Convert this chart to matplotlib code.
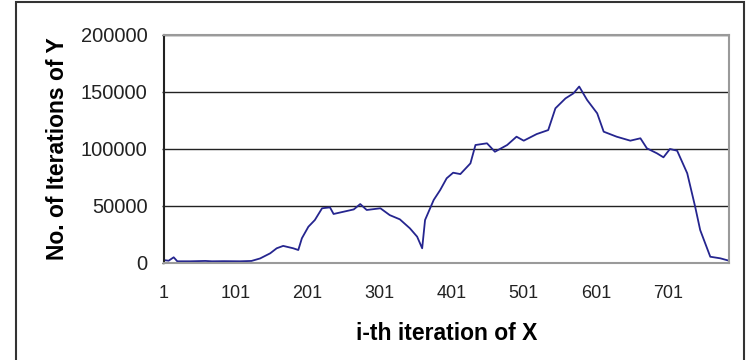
import matplotlib.pyplot as plt
from matplotlib.patches import Rectangle

plt.rcParams['font.family'] = ['Liberation Sans', 'DejaVu Sans']

# values (iteration index, count)
iter_x = [1, 8, 15, 20, 38, 59, 68, 85, 107, 123, 135, 149, 158, 167,
          181, 188, 193, 202, 211, 221, 232, 237, 251, 265, 274, 283, 302,
          315, 329, 343, 353, 360, 364, 376, 385, 394, 403, 413, 427, 434,
          450, 461, 478, 491, 501, 519, 535, 545, 559, 570, 578, 589, 603,
          612, 630, 649, 663, 672, 686, 695, 704, 714, 728, 739, 746, 760,
          774, 786]
iter_y = [2600, 2000, 5000, 1500, 1500, 1800, 1500, 1600, 1500, 1800, 4000,
          8500, 12900, 15000, 12900, 11400, 21700, 31800, 37700, 48000,
          48800, 43000, 45000, 47000, 51700, 46500, 48000, 42000, 38300,
          30400, 23100, 12900, 37700, 55300, 64000, 74300, 79200, 78000,
          87400, 103500, 105000, 97600, 103500, 110800, 107300, 113100,
          116600, 135700, 144400, 148800, 154800, 143000, 131300, 115200,
          110800, 107300, 109400, 100600, 96200, 92700, 100000, 98500,
          78700, 49400, 28900, 5500, 4100, 2000]

y_ticks = [0, 50000, 100000, 150000, 200000]
x_ticks = [1, 101, 201, 301, 401, 501, 601, 701]

fig = plt.figure(figsize=(7.53, 3.6), dpi=100)
ax = fig.add_axes([163.6 / 753, 1 - 263 / 360, (729 - 163.6) / 753, (263 - 35) / 360])

ax.plot(iter_x, iter_y, color='#25258f', lw=1.3)

ax.set_xlim(1, 786)
ax.set_ylim(0, 200000)
ax.set_yticks(y_ticks)
ax.set_yticklabels([str(v) for v in y_ticks])
ax.set_xticks(x_ticks)
ax.set_xticklabels([str(v) for v in x_ticks])
ax.grid(axis='y', color='#222222', lw=1)
ax.set_axisbelow(True)

ax.tick_params(axis='y', length=1.5, width=1, color='#222222', labelsize=14.5,
               pad=10, labelcolor='#222222')
ax.tick_params(axis='x', length=0, labelsize=13, pad=16, labelcolor='#222222')

for side in ['top', 'right', 'bottom']:
    ax.spines[side].set_color('#9a9a9a')
    ax.spines[side].set_linewidth(1.5)
ax.spines['left'].set_color('#222222')
ax.spines['left'].set_linewidth(1.5)

ax.set_xlabel('i-th iteration of X', fontsize=16.5, fontweight='bold', va='center')
ax.set_ylabel('No. of Iterations of Y', fontsize=16.5, fontweight='bold', va='center')
ax.xaxis.set_label_coords(0.5, -0.311)
ax.yaxis.set_label_coords(-0.188, 0.5)

# outer chart border
fig.patches.append(Rectangle((16 / 753, -0.05), (744 - 16) / 753, 1.05 - 2 / 360,
                             transform=fig.transFigure, fill=False,
                             edgecolor='#333333', lw=1.5))

fig.savefig('out.png', dpi=100)
